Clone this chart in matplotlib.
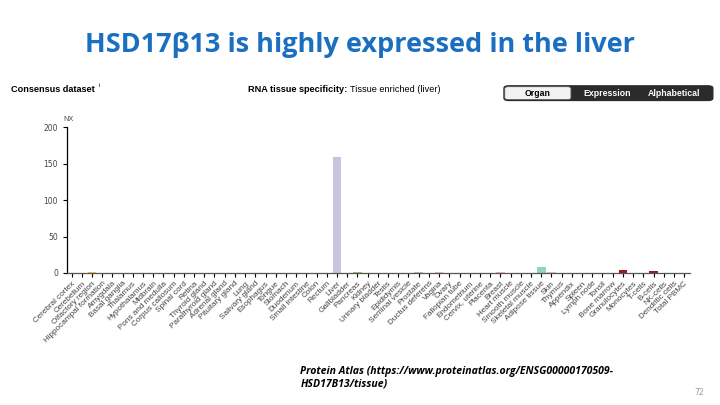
import matplotlib.pyplot as plt
from matplotlib.patches import FancyBboxPatch

# tissues in organ order, as shown on the Protein Atlas page
tissues = ["Cerebral cortex", "Cerebellum", "Olfactory region", "Hippocampal formation",
           "Amygdala", "Basal ganglia", "Thalamus", "Hypothalamus", "Midbrain",
           "Pons and medulla", "Corpus callosum", "Spinal cord", "Retina",
           "Thyroid gland", "Parathyroid gland", "Adrenal gland", "Pituitary gland",
           "Lung", "Salivary gland", "Esophagus", "Tongue", "Stomach", "Duodenum",
           "Small intestine", "Colon", "Rectum", "Liver", "Gallbladder", "Pancreas",
           "Kidney", "Urinary bladder", "Testis", "Epididymis", "Seminal vesicle",
           "Prostate", "Ductus deferens", "Vagina", "Ovary", "Fallopian tube",
           "Endometrium", "Cervix, uterine", "Placenta", "Breast", "Heart muscle",
           "Smooth muscle", "Skeletal muscle", "Adipose tissue", "Skin", "Thymus",
           "Appendix", "Spleen", "Lymph node", "Tonsil", "Bone marrow",
           "Granulocytes", "Monocytes", "T-cells", "B-cells", "NK-cells",
           "Dendritic cells", "Total PBMC"]

nx = [0.3, 0.3, 0.8, 0.3, 0.3, 0.3, 0.3, 0.3, 0.3, 0.3, 0.3, 0.3, 0.2,
      0.2, 0.2, 0.2, 0.2, 0.3, 0.3, 0.3, 0.2, 0.3, 0.3, 0.3, 0.3, 0.3,
      159.0, 0.5, 2.0, 0.5, 0.3, 0.3, 0.3, 0.4, 1.6, 0.3, 1.6, 0.4, 0.6,
      0.6, 0.4, 0.4, 1.2, 0.5, 0.5, 0.4, 8.0, 1.0, 0.3, 0.3, 0.3, 0.3, 0.3,
      0.3, 4.0, 0.6, 0.5, 2.2, 0.6, 0.6, 0.5]

# colour per organ group (brain, eye, endocrine, ... blood)
group_sizes = [12, 1, 4, 1, 8, 1, 1, 1, 2, 5, 7, 3, 1, 1, 6, 7]
group_colors = ["#f2c94c", "#e8d28a", "#c8a6d8", "#9fc2e6", "#e9b08c", "#c9c3e3",
                "#a7d5a0", "#8cc97f", "#8cc97f", "#9cc8ea", "#f3b7d1", "#f2b6c6",
                "#8fd3c1", "#f5c7b8", "#b9d99a", "#a5141c"]
colors = []
for n, c in zip(group_sizes, group_colors):
    colors += [c] * n

fig = plt.figure(figsize=(7.2, 4.05), dpi=100)
fig.patch.set_facecolor("white")

fig.text(0.5, 0.888, "HSD17\u03b213 is highly expressed in the liver", ha="center",
         va="center", fontsize=19.5, fontweight="bold", color="#1a6fc0",
         family="Open Sans")

fig.text(0.015, 0.778, "Consensus dataset", fontsize=6.6, fontweight="bold",
         family="Liberation Sans", va="center")
fig.text(0.137, 0.79, "i", fontsize=4.5, family="Liberation Sans", va="center")
fig.text(0.344, 0.778, "RNA tissue specificity:", fontsize=6.6, fontweight="bold",
         family="Liberation Sans", va="center")
fig.text(0.486, 0.778, "Tissue enriched (liver)", fontsize=6.6,
         family="Liberation Sans", va="center")

# the Organ / Expression / Alphabetical button group
dark = FancyBboxPatch((0.70, 0.752), 0.29, 0.036, boxstyle="round,pad=0,rounding_size=0.006",
                      transform=fig.transFigure, facecolor="#2b2b2b", edgecolor="#2b2b2b")
light = FancyBboxPatch((0.701, 0.754), 0.092, 0.032, boxstyle="round,pad=0,rounding_size=0.005",
                       transform=fig.transFigure, facecolor="#f2f2f2", edgecolor="#555555",
                       linewidth=0.6)
fig.patches.extend([dark, light])
fig.text(0.747, 0.770, "Organ", ha="center", va="center", fontsize=6.3, fontweight="bold",
         family="Liberation Sans")
fig.text(0.843, 0.770, "Expression", ha="center", va="center", fontsize=6.3,
         fontweight="bold", color="white", family="Liberation Sans")
fig.text(0.936, 0.770, "Alphabetical", ha="center", va="center", fontsize=6.3,
         fontweight="bold", color="white", family="Liberation Sans")

ax = fig.add_axes([0.093, 0.326, 0.865, 0.36])
x = range(len(tissues))
ax.bar(x, nx, width=0.85, color=colors, zorder=2)
ax.set_xlim(-0.45, len(tissues) - 0.45)
ax.set_ylim(0, 200)
ax.set_yticks([0, 50, 100, 150, 200])
ax.set_xticks(list(x))
ax.set_xticklabels(tissues, rotation=45, ha="right", rotation_mode="anchor",
                   fontsize=5.9, color="#444444", family="Liberation Sans")
ax.tick_params(axis="y", labelsize=5.5, labelcolor="#444444", length=3, width=0.8)
ax.tick_params(axis="x", length=3, width=0.8, pad=2)
for s in ["top", "right"]:
    ax.spines[s].set_visible(False)
ax.spines["left"].set_linewidth(0.9)
ax.spines["bottom"].set_linewidth(0.9)
ax.spines["bottom"].set_color("#555555")
ax.text(-0.3, 206, "NX", fontsize=5.3, color="#444444", ha="center", va="bottom",
        family="Liberation Sans")

fig.text(0.417, 0.068, "Protein Atlas (https://www.proteinatlas.org/ENSG00000170509-\nHSD17B13/tissue)",
         fontsize=7.6, fontweight="bold", style="italic", family="Open Sans",
         va="center", linespacing=1.2)
fig.text(0.978, 0.030, "72", fontsize=5.5, color="#999999", ha="right", va="center")

fig.savefig("out.png", dpi=100)
